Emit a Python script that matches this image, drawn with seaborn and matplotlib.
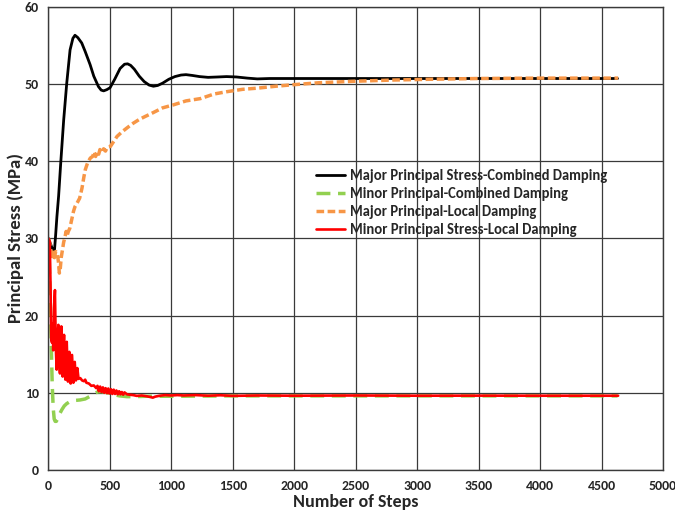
import matplotlib
matplotlib.use("Agg")
import matplotlib.pyplot as plt
import seaborn as sns
import pandas as pd
from matplotlib import font_manager

# ---------------- data ----------------
maj_comb_x = [0, 20, 40, 50, 60, 70, 84, 100, 125, 150, 177, 200, 217, 240, 272, 300, 340, 370, 408,
              430, 450, 475, 502, 540, 584, 620, 645, 670, 700, 740, 780, 820, 855, 890, 930, 980,
              1030, 1080, 1120, 1170, 1230, 1300, 1380, 1450, 1530, 1620, 1700, 1800, 2000, 2500,
              3000, 3500, 4000, 4630]
maj_comb_y = [30, 29.2, 28.3, 28.4, 30.5, 32.8, 35.5, 39.5, 45.3, 50.1, 54.4, 55.9, 56.3, 56.0, 55.3,
              54.2, 52.5, 51.0, 49.65, 49.2, 49.1, 49.25, 49.5, 50.6, 52.0, 52.55, 52.6, 52.4, 51.9,
              51.0, 50.3, 49.85, 49.7, 49.8, 50.1, 50.6, 50.95, 51.15, 51.2, 51.1, 50.95, 50.85,
              50.9, 50.95, 50.9, 50.75, 50.65, 50.7, 50.7, 50.7, 50.7, 50.7, 50.7, 50.7]

min_comb_x = [0, 8, 16, 24, 32, 40, 48, 56, 65, 75, 90, 110, 130, 150, 176, 210, 258, 300, 340, 370,
              400, 430, 470, 520, 580, 640, 700, 800, 1000, 1500, 2000, 3000, 4630]
min_comb_y = [30, 27, 22, 16, 11, 8, 6.6, 6.3, 6.3, 6.6, 7.2, 7.8, 8.3, 8.6, 8.85, 9.0, 9.07, 9.2,
              9.55, 9.9, 10.1, 10.15, 10.05, 9.8, 9.6, 9.5, 9.5, 9.55, 9.55, 9.6, 9.6, 9.6, 9.6]

maj_loc_x = [0, 10, 20, 30, 40, 50, 60, 73, 82, 90, 97, 105, 115, 125, 136, 145, 152, 163, 175, 190,
             205, 217, 235, 255, 274, 290, 301, 320, 342, 360, 375, 385, 396, 410, 420, 437, 450,
             465, 480, 505, 530, 559, 600, 640, 690, 740, 790, 830, 880, 930, 1020, 1120, 1238,
             1350, 1455, 1580, 1700, 1850, 1995, 2200, 2500, 2800, 3100, 3500, 4000, 4635]
maj_loc_y = [30, 29.5, 28.5, 27.3, 28.2, 27.5, 28.3, 28.1, 27.0, 25.5, 26.0, 27.5, 28.5, 29.5, 30.2,
             30.9, 30.3, 30.9, 31.3, 32.4, 33.5, 34.1, 34.6, 35.2, 36.5, 38.0, 38.9, 39.8, 40.4,
             40.6, 41.2, 40.6, 41.2, 40.9, 41.5, 41.1, 41.6, 41.3, 41.8, 41.9, 42.5, 43.2, 43.8,
             44.3, 44.9, 45.4, 45.8, 46.1, 46.5, 46.9, 47.3, 47.8, 48.1, 48.7, 49.0, 49.3, 49.45,
             49.7, 49.9, 50.15, 50.35, 50.5, 50.6, 50.7, 50.75, 50.75]

min_loc_x = [0, 12, 18, 24, 30, 36, 40, 47, 54, 61, 68, 75, 82, 88, 95, 100, 106, 111, 117, 122, 128,
             133, 139, 150, 160, 171, 182, 193, 204, 215, 225, 236, 246, 260, 275, 290, 300, 310,
             330, 350, 370, 390, 400, 411, 422, 433, 444, 455, 466, 477, 488, 499, 510, 521, 532,
             543, 554, 565, 576, 587, 598, 609, 620, 640, 660, 690, 720, 760, 800, 830, 850, 870,
             900, 950, 1000, 1050, 1100, 1200, 1300, 1400, 1500, 1700, 2000, 2500, 3000, 3500,
             4000, 4635]
min_loc_y = [30, 29.6, 24, 17, 16.5, 19, 15.5, 21, 23.3, 16, 13.0, 17, 18.8, 14, 12.5, 16, 18.6, 14,
             12.1, 15, 17.5, 13.5, 11.7, 16.6, 11.45, 15.3, 11.2, 14.9, 11.3, 14.0, 11.6, 13.2,
             11.8, 11.9, 11.6, 11.5, 11.7, 11.3, 11.2, 10.9, 10.95, 10.6, 10.9, 10.2, 10.8, 10.1,
             10.7, 10.0, 10.6, 9.95, 10.55, 9.9, 10.45, 9.85, 10.4, 9.85, 10.3, 9.8, 10.2, 9.8,
             10.1, 9.75, 10.05, 9.8, 9.75, 9.7, 9.6, 9.65, 9.55, 9.45, 9.37, 9.5, 9.6, 9.7, 9.65,
             9.7, 9.65, 9.7, 9.62, 9.68, 9.6, 9.65, 9.62, 9.65, 9.62, 9.63, 9.62, 9.62]

series_labels = ["Major Principal Stress-Combined Damping",
                 "Minor Principal-Combined Damping",
                 "Major Principal-Local Damping",
                 "Minor Principal Stress-Local Damping"]
x_ticks = [0, 500, 1000, 1500, 2000, 2500, 3000, 3500, 4000, 4500, 5000]
y_ticks = [0, 10, 20, 30, 40, 50, 60]

# ---------------- style ----------------
sns.set_theme(style="white")
available = {f.name for f in font_manager.fontManager.ttflist}
families = [f for f in ["Carlito", "Lato", "DejaVu Sans"] if f in available]
plt.rcParams["font.family"] = families
plt.rcParams["font.weight"] = "bold"

fig = plt.figure(figsize=(6.75, 5.14), dpi=100)
W, H = 675, 514
ax = fig.add_axes([48.3 / W, (H - 470) / H, (663 - 48.3) / W, (470 - 6.7) / H])

series = [
    (maj_comb_x, maj_comb_y, "#000000", "-", 2.0),
    (min_comb_x, min_comb_y, "#92D050", (0, (4, 2.2)), 2.5),
    (maj_loc_x, maj_loc_y, "#F79646", (0, (2.2, 1.0)), 2.5),
    (min_loc_x, min_loc_y, "#FF0000", "-", 1.9),
]
for (xs, ys, col, ls, lw), lab in zip(series, series_labels):
    df = pd.DataFrame({"step": xs, "stress": ys})
    sns.lineplot(data=df, x="step", y="stress", ax=ax, color=col, linestyle=ls,
                 linewidth=lw, label=lab, estimator=None, sort=False)

ax.set_xlim(0, 5000)
ax.set_ylim(0, 60)
ax.set_xticks(x_ticks)
ax.set_yticks(y_ticks)
ax.set_xticklabels([str(v) for v in x_ticks], fontsize=10, fontweight="bold")
ax.set_yticklabels([str(v) for v in y_ticks], fontsize=10, fontweight="bold")
ax.grid(True, color="#3a3a3a", linewidth=0.9)
ax.set_axisbelow(True)
for s in ax.spines.values():
    s.set_color("#3a3a3a")
    s.set_linewidth(1.0)
ax.tick_params(axis="both", direction="out", length=4, width=0.8, color="#555555", pad=3)

ax.set_xlabel("Number of Steps", fontsize=13, fontweight="bold", labelpad=2)
ax.set_ylabel("Principal Stress (MPa)", fontsize=13.5, fontweight="bold", labelpad=0)

leg = ax.legend(loc="upper left", bbox_to_anchor=(306 / W, 1 - 159 / H),
                bbox_transform=fig.transFigure, frameon=False, fontsize=10.5,
                handlelength=2.0, handletextpad=0.3, labelspacing=0.27, borderpad=0.2)
for t in leg.get_texts():
    t.set_fontweight("bold")

fig.savefig("out.png", dpi=100)
